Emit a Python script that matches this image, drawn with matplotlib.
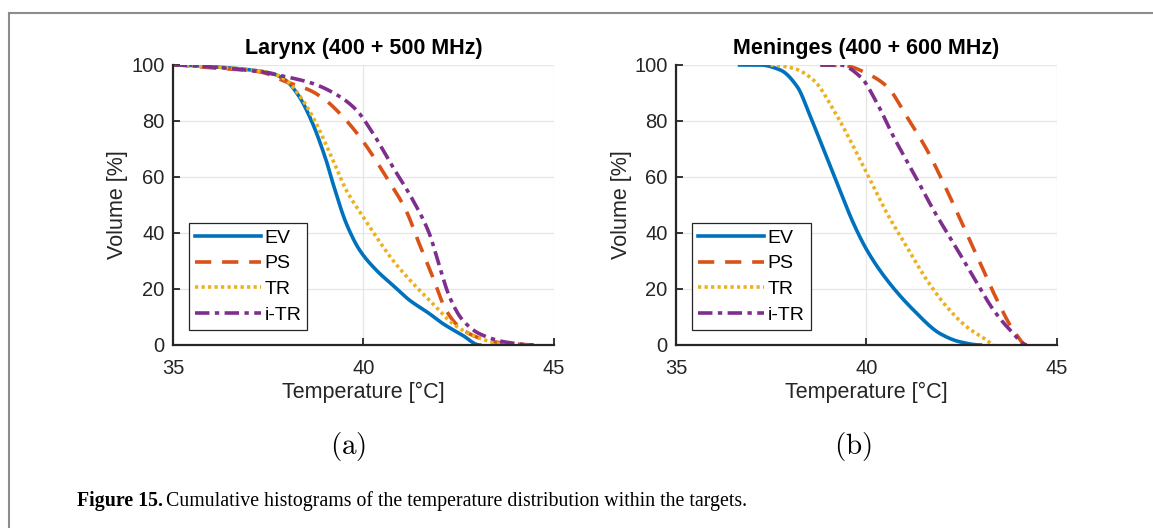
import numpy as np
import matplotlib
matplotlib.use("Agg")
import matplotlib.pyplot as plt
from matplotlib.lines import Line2D

plt.rcParams['font.family'] = ['Liberation Sans', 'DejaVu Sans']
plt.rcParams['mathtext.fontset'] = 'cm'

# ---- data (temperature [C], volume [%]) ----
names = ["EV", "PS", "TR", "i-TR"]
colors = ["#0072BD", "#D95319", "#EDB120", "#7E2F8E"]
styles = ["-", (0, (4.5, 3.0)), (0, (0.9, 0.9)), (0, (4.0, 1.5, 1.2, 1.5))]

# (a) Larynx
lar_ev_t = [35.0, 36.0, 37.0, 37.6, 37.97, 38.3, 38.59, 39.02, 39.2, 39.55, 39.9, 40.34, 40.8, 41.21, 41.7, 42.09, 42.6, 43.05]
lar_ev_v = [100, 99.4, 98.3, 97.0, 94.4, 89, 81.5, 66, 57.7, 43.4, 33.9, 26.7, 21.0, 16, 11.5, 7.6, 3.5, 0]
lar_ps_t = [35.0, 36.0, 37.27, 37.97, 38.59, 39.0, 39.38, 39.9, 40.6, 41.12, 41.47, 41.82, 42.17, 42.52, 42.96, 43.4, 43.84, 44.6]
lar_ps_v = [100, 99.0, 97.6, 94, 91, 87.5, 82.7, 74.4, 60, 48, 36, 24.3, 12.4, 6.4, 2.9, 1.2, 0.5, 0]
lar_tr_t = [35.0, 36.0, 37.0, 37.6, 37.97, 38.3, 38.67, 39.2, 39.55, 39.99, 40.34, 40.77, 41.3, 41.82, 42.35, 42.96, 43.57, 44.0]
lar_tr_v = [100, 99.4, 98.3, 97.0, 94.6, 89.5, 81.5, 66, 55.3, 45.8, 38.6, 30.3, 22, 14.8, 7.6, 2.9, 0.5, 0]
lar_itr_t = [35.0, 36.0, 37.27, 37.97, 38.67, 39.38, 39.81, 40.25, 40.77, 41.3, 41.73, 42.0, 42.26, 42.61, 43.05, 43.75, 44.45]
lar_itr_v = [100, 99.3, 97.6, 95.8, 93.4, 88.7, 84, 75.6, 63.6, 51.7, 39.8, 27.9, 17.2, 8.8, 4, 1, 0]

# (b) Meninges
men_ev_t = [36.67, 37.21, 37.74, 38.18, 38.53, 38.88, 39.23, 39.66, 40.01, 40.54, 41.24, 41.94, 42.46, 42.99]
men_ev_v = [100, 100, 98.2, 92.3, 81.5, 69.6, 57.7, 43.4, 33.9, 23.2, 12.4, 4, 1.1, 0]
men_ps_t = [38.79, 39.49, 40.01, 40.54, 41.06, 41.59, 42.11, 42.55, 42.99, 43.43, 43.86, 44.21]
men_ps_v = [100, 99.6, 97, 92.3, 81.5, 69.6, 55.3, 42.2, 29.1, 16, 5.2, 0]
men_tr_t = [37.48, 38.09, 38.61, 39.14, 39.66, 40.01, 40.54, 41.06, 41.59, 42.11, 42.64, 43.16, 43.34]
men_tr_v = [100, 98.8, 94.6, 83.9, 70.8, 61.3, 47, 35, 23.1, 13.6, 6.4, 1.7, 0]
men_itr_t = [38.79, 39.31, 39.84, 40.28, 40.71, 41.24, 41.76, 42.29, 42.81, 43.34, 43.78, 44.21]
men_itr_v = [100, 100, 95.8, 86.3, 74.4, 61.3, 48.2, 36.2, 24.3, 12.4, 5.2, 0]

titles = ["Larynx (400 + 500 MHz)", "Meninges (400 + 600 MHz)"]
panels = [
    [(lar_ev_t, lar_ev_v), (lar_ps_t, lar_ps_v), (lar_tr_t, lar_tr_v), (lar_itr_t, lar_itr_v)],
    [(men_ev_t, men_ev_v), (men_ps_t, men_ps_v), (men_tr_t, men_tr_v), (men_itr_t, men_itr_v)],
]
sub_labels = [r"$\mathrm{(a)}$", r"$\mathrm{(b)}$"]
x_ticks = [35, 40, 45]
y_ticks = [0, 20, 40, 60, 80, 100]


def smooth(t, v, n=300):
    # monotone cubic (PCHIP) through the read points, to get a smooth curve
    t = np.asarray(t, float)
    v = np.asarray(v, float)
    h = np.diff(t)
    d = np.diff(v) / h
    m = np.zeros_like(t)
    for k in range(1, len(t) - 1):
        if d[k - 1] * d[k] > 0:
            w1 = 2 * h[k] + h[k - 1]
            w2 = h[k] + 2 * h[k - 1]
            m[k] = (w1 + w2) / (w1 / d[k - 1] + w2 / d[k])
    m[0] = d[0] if abs(d[0]) < 1e-9 else 0.0
    m[-1] = 0.0
    tt = np.linspace(t[0], t[-1], n)
    idx = np.clip(np.searchsorted(t, tt) - 1, 0, len(t) - 2)
    s = (tt - t[idx]) / h[idx]
    h00 = 2 * s**3 - 3 * s**2 + 1
    h10 = s**3 - 2 * s**2 + s
    h01 = -2 * s**3 + 3 * s**2
    h11 = s**3 - s**2
    vv = h00 * v[idx] + h10 * h[idx] * m[idx] + h01 * v[idx + 1] + h11 * h[idx] * m[idx + 1]
    return tt, vv


fig = plt.figure(figsize=(11.53, 5.28), dpi=100)

# page frame (top and left border as in the source page)
fig.add_artist(Line2D([0.008, 1.0], [0.976, 0.976], color="#8c8c8c", lw=1.5))
fig.add_artist(Line2D([0.008, 0.008], [0.0, 0.976], color="#8c8c8c", lw=1.5))

lefts = [0.150, 0.5863]
sub_x = [0.3018, 0.7398]
for i in range(2):
    ax = fig.add_axes([lefts[i], 0.3466, 0.3304, 0.5303])
    for j in range(4):
        t, v = panels[i][j]
        tt, vv = smooth(t, v)
        ax.plot(tt, vv, color=colors[j], linestyle=styles[j], lw=2.6, label=names[j])
    ax.set_xlim(35, 45)
    ax.set_ylim(0, 100)
    ax.set_xticks(x_ticks)
    ax.set_yticks(y_ticks)
    ax.grid(True, color="#e6e6e6", lw=0.9)
    ax.set_axisbelow(True)
    for side in ["top", "right"]:
        ax.spines[side].set_visible(False)
    for side in ["left", "bottom"]:
        ax.spines[side].set_linewidth(1.6)
        ax.spines[side].set_color("#262626")
    ax.tick_params(direction="in", length=5, width=1.3, labelsize=14.5, colors="#262626")
    ax.tick_params(axis="x", pad=10)
    ax.tick_params(axis="y", pad=6)
    ax.set_title(titles[i], fontsize=15.5, fontweight="bold", pad=8)
    ax.set_xlabel("Temperature [\u00b0C]", fontsize=15.5, color="#262626", labelpad=3)
    ax.set_ylabel("Volume [%]", fontsize=15.5, color="#262626", labelpad=2)
    leg = ax.legend(loc="lower left", bbox_to_anchor=(0.042, 0.054), fontsize=14, handlelength=3.4,
                    handletextpad=0.2, labelspacing=0.42, borderpad=0.3, fancybox=False,
                    framealpha=1, edgecolor="#262626", borderaxespad=0)
    leg.get_frame().set_linewidth(0.9)
    fig.text(sub_x[i], 0.155, sub_labels[i], fontsize=21, ha="center", va="center")

fig.text(0.067, 0.051, "Figure 15.", fontsize=14.3, fontweight="bold", family="Liberation Serif", va="center")
fig.text(0.144, 0.051, "Cumulative histograms of the temperature distribution within the targets.",
         fontsize=14.3, family="Liberation Serif", va="center")

fig.savefig("out.png", dpi=100)
